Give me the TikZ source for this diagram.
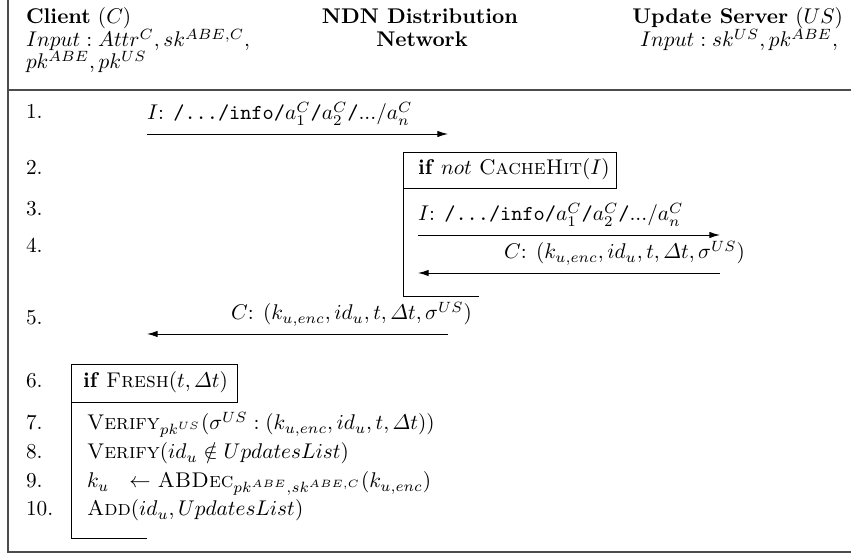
\documentclass[tikz,border=0pt]{standalone}
\usepackage{amsmath,amssymb}
\usetikzlibrary{arrows.meta}
\begin{document}
\begin{tikzpicture}[x=0.47pt,y=-0.47pt,
  frameline/.style={draw=black!70,line width=0.7pt},
  boxline/.style={draw=black,line width=0.45pt},
  msg/.style={draw=black,line width=0.45pt,-{Latex[length=5pt,width=3pt]}},
  txt/.style={inner sep=0pt,outer sep=0pt},
  num/.style={txt,anchor=base west}]
\useasboundingbox (0,0) rectangle (851,556);
% frame
\coordinate (ftl) at (8,0);
\coordinate (fbl) at (8,552);
\coordinate (fbr) at (851,552);
\coordinate (sepl) at (8,90);
\coordinate (sepr) at (851,90);
\draw[frameline] (ftl) -- (fbl) -- (fbr);
\draw[frameline] (sepl) -- (sepr);
% header
\node[txt,anchor=base west] (hc1) at (26,24) {\textbf{Client} $(C)$};
\node[txt,anchor=base west] (hc2) at (26,47) {$Input : Attr^C, sk^{ABE,C},$};
\node[txt,anchor=base west] (hc3) at (26,69) {$pk^{ABE}, pk^{US}$};
\node[txt,anchor=base] (hn1) at (420,24) {\textbf{NDN Distribution}};
\node[txt,anchor=base] (hn2) at (422,47) {\textbf{Network}};
\node[txt,anchor=base east] (hs1) at (843,24) {\textbf{Update Server} $(US)$};
\node[txt,anchor=base east] (hs2) at (838,47) {$Input : sk^{US}, pk^{ABE},$};
% row numbers
\node[num] (n1) at (26,119) {1.};
\node[num] (n2) at (26,175) {2.};
\node[num] (n3) at (26,216) {3.};
\node[num] (n4) at (26,253) {4.};
\node[num] (n5) at (26,325) {5.};
\node[num] (n6) at (26,388) {6.};
\node[num] (n7) at (26,430) {7.};
\node[num] (n8) at (26,459) {8.};
\node[num] (n9) at (26,488) {9.};
\node[num] (n10) at (26,516) {10.};
% message 1
\coordinate (m1a) at (147,134);
\coordinate (m1b) at (448,134);
\draw[msg] (m1a) -- (m1b);
\node[txt,anchor=base west] (l1) at (147,120) {$I$: \texttt{/.../info/}$a_1^C$\texttt{/}$a_2^C$\texttt{/}.../$a_n^C$};
% block 2
\node[boxline,anchor=north west,minimum width=213*0.47pt,minimum height=36*0.47pt,inner sep=0pt] (b2) at (403,152) {};
\node[txt,anchor=base west] (b2t) at (418,175) {\textbf{if} $not$ \textsc{CacheHit}$(I)$};
\coordinate (b2c) at (403,296);
\coordinate (b2e) at (479,296);
\draw[boxline] (b2.south west) -- (b2c) -- (b2e);
% message 3
\coordinate (m3a) at (418,235);
\coordinate (m3b) at (720,235);
\draw[msg] (m3a) -- (m3b);
\node[txt,anchor=base west] (l3) at (418,221) {$I$: \texttt{/.../info/}$a_1^C$\texttt{/}$a_2^C$\texttt{/}.../$a_n^C$};
% message 4
\coordinate (m4a) at (720,273);
\coordinate (m4b) at (418,273);
\draw[msg] (m4a) -- (m4b);
\node[txt,anchor=base east] (l4) at (745,259) {$C$: $(k_{u,enc}, id_u, t, \varDelta t, \sigma^{US})$};
% message 5
\coordinate (m5a) at (448,334);
\coordinate (m5b) at (147,334);
\draw[msg] (m5a) -- (m5b);
\node[txt,anchor=base east] (l5) at (472,320) {$C$: $(k_{u,enc}, id_u, t, \varDelta t, \sigma^{US})$};
% block 6
\node[boxline,anchor=north west,minimum width=166*0.47pt,minimum height=38*0.47pt,inner sep=0pt] (b6) at (71,364) {};
\node[txt,anchor=base west] (b6t) at (83,388) {\textbf{if} \textsc{Fresh}$(t, \varDelta t)$};
\coordinate (b6c) at (71,538);
\coordinate (b6e) at (147,538);
\draw[boxline] (b6.south west) -- (b6c) -- (b6e);
% lines 7-10
\node[txt,anchor=base west] (s7) at (87,430) {\textsc{Verify}$_{pk^{US}}(\sigma^{US} : (k_{u,enc}, id_u, t, \varDelta t))$};
\node[txt,anchor=base west] (s8) at (87,459) {\textsc{Verify}$(id_u \notin UpdatesList)$};
\node[txt,anchor=base west] (s9) at (87,488) {$k_u\ \ \leftarrow$ \textsc{ABDec}$_{pk^{ABE},sk^{ABE,C}}(k_{u,enc})$};
\node[txt,anchor=base west] (s10) at (87,516) {\textsc{Add}$(id_u, UpdatesList)$};
\end{tikzpicture}
\end{document}
